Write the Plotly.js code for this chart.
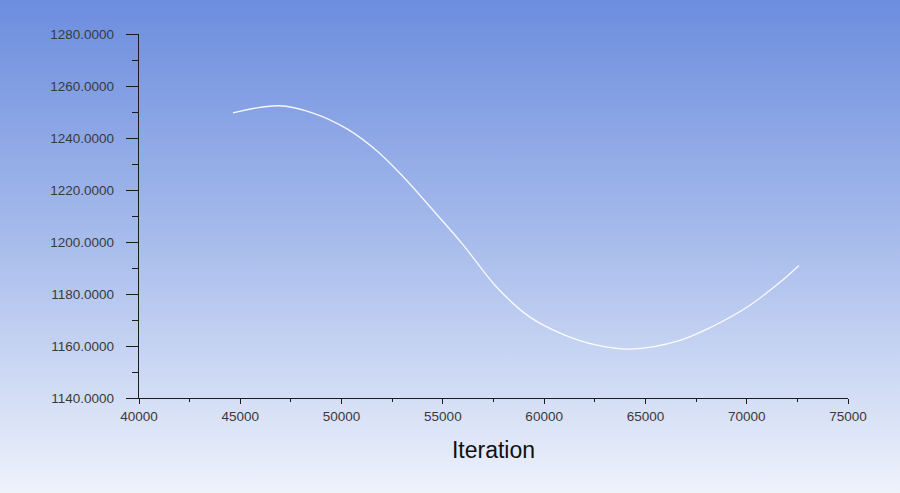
<!DOCTYPE html>
<html>
<head>
<meta charset="utf-8">
<script src="https://cdn.plot.ly/plotly-3.0.1.min.js"></script>
<style>
  html, body { margin: 0; padding: 0; }
  #chart {
    width: 900px;
    height: 493px;
    background: linear-gradient(to bottom, #6c8dde 0%, #a9bdec 50%, #eef2fb 100%);
  }
</style>
</head>
<body>
<div id="chart"></div>
<script>
// values
const iteration = [44640, 46900, 48590, 50270, 51750, 53030, 54710, 55990, 57670,
                   59300, 60930, 62500, 64240, 66710, 68330, 70010, 71640, 72580];
const value = [1249.7, 1252.4, 1249.6, 1243.5, 1235.0, 1225.2, 1210.5, 1199.0, 1182.5,
               1171.1, 1164.5, 1160.5, 1158.8, 1162.2, 1167.6, 1174.9, 1184.5, 1191.0];

const axisColor = '#1c1c1c';
const labelFont = { family: 'Liberation Sans, Arial, sans-serif', size: 13.5, color: '#3a3a3a' };

const trace = {
    x: iteration,
    y: value,
    type: 'scatter',
    mode: 'lines',
    line: { color: 'rgba(255,255,255,0.92)', width: 1.3, shape: 'spline', smoothing: 1 },
    hoverinfo: 'skip'
};

const layout = {
    width: 900,
    height: 493,
    paper_bgcolor: 'rgba(0,0,0,0)',
    plot_bgcolor: 'rgba(0,0,0,0)',
    showlegend: false,
    margin: { l: 139, r: 52, t: 34, b: 95 },
    xaxis: {
        range: [40000, 75000],
        dtick: 5000,
        tick0: 40000,
        tickformat: 'd',
        ticks: 'outside',
        ticklen: 5,
        tickwidth: 1,
        tickcolor: axisColor,
        showline: true,
        linecolor: axisColor,
        linewidth: 1.3,
        showgrid: false,
        zeroline: false,
        tickfont: labelFont,
        minor: { dtick: 2500, ticks: 'outside', ticklen: 3, tickcolor: axisColor, tickwidth: 1, showgrid: false },
        title: {
            text: 'Iteration',
            font: { family: 'Liberation Sans, Arial, sans-serif', size: 23, color: '#111' },
            standoff: 19
        }
    },
    yaxis: {
        range: [1140, 1280],
        dtick: 20,
        tick0: 1140,
        tickformat: '.4f',
        ticks: 'outside',
        ticklen: 12,
        tickwidth: 1,
        tickcolor: axisColor,
        ticklabelstandoff: 9,
        showline: true,
        linecolor: axisColor,
        linewidth: 1.3,
        showgrid: false,
        zeroline: false,
        tickfont: labelFont,
        minor: { dtick: 10, ticks: 'outside', ticklen: 6, tickcolor: axisColor, tickwidth: 1, showgrid: false }
    }
};

Plotly.newPlot('chart', [trace], layout, { displayModeBar: false, staticPlot: true });
</script>
</body>
</html>
